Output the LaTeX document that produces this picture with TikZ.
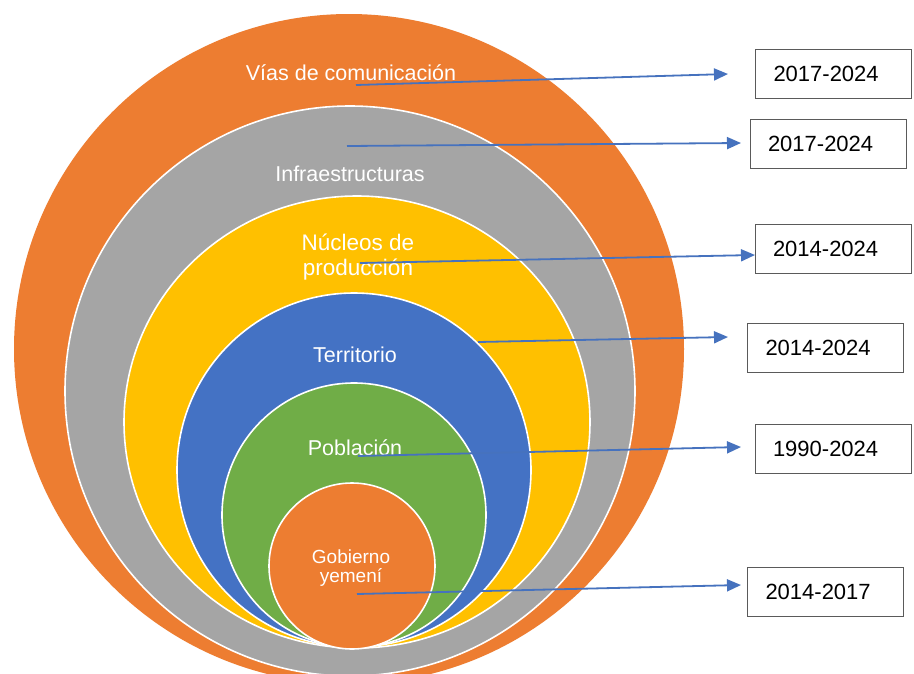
\documentclass[tikz,border=0pt]{standalone}
\usepackage{fontspec}
\setmainfont{Liberation Sans}
\usetikzlibrary{arrows.meta}
\definecolor{corange}{RGB}{237,125,49}
\definecolor{cgray}{RGB}{165,165,165}
\definecolor{cyellow}{RGB}{255,192,0}
\definecolor{cblue}{RGB}{68,114,196}
\definecolor{cgreen}{RGB}{112,173,71}
\definecolor{carrow}{RGB}{70,114,190}
\definecolor{cbox}{RGB}{90,90,90}
\begin{document}
\begin{tikzpicture}[x=1pt,y=-1pt,
  ring/.style={draw=white,line width=1.6pt},
  lbl/.style={text=white,inner sep=0pt,anchor=base,font=\fontsize{21.5}{24}\selectfont},
  datebox/.style={draw=cbox,line width=0.9pt,fill=white,minimum height=49pt,
    text width=120pt,inner xsep=18pt,inner ysep=0pt,align=left,
    font=\fontsize{22}{24}\selectfont},
  arr/.style={draw=carrow,line width=1.8pt,-{Triangle[length=14pt,width=12pt]}}]
\useasboundingbox (0,0) rectangle (914,673);
\clip (0,0) rectangle (914,673);
\fill[white] (0,0) rectangle (914,673);
% nested circles
\fill[corange] (349,349) circle[radius=335pt];
\filldraw[ring,fill=cgray] (350,391) circle[radius=285pt];
\filldraw[ring,fill=cyellow] (357,422) ellipse[x radius=233pt,y radius=226pt];
\filldraw[ring,fill=cblue] (354,470) circle[radius=177pt];
\filldraw[ring,fill=cgreen] (354,515) circle[radius=132pt];
\filldraw[ring,fill=corange] (352,566) circle[radius=83pt];
% labels
\node[lbl] (l1) at (351,80) {Vías de comunicación};
\node[lbl] (l2) at (350,181) {Infraestructuras};
\node[lbl,font=\fontsize{22.5}{25}\selectfont] (l3a) at (358,250) {Núcleos de};
\node[lbl,font=\fontsize{22.5}{25}\selectfont] (l3b) at (358,275) {producción};
\node[lbl] (l4) at (355,362) {Territorio};
\node[lbl] (l5) at (355,455) {Población};
\node[lbl,font=\fontsize{19}{21}\selectfont] (l6a) at (351,563) {Gobierno};
\node[lbl,font=\fontsize{19}{21}\selectfont] (l6b) at (351,582) {yemení};
% boxes
\node[datebox] (b1) at (833.5,74) {2017-2024};
\node[datebox] (b2) at (828,143.5) {2017-2024};
\node[datebox] (b3) at (833,248.5) {2014-2024};
\node[datebox] (b4) at (825.5,348) {2014-2024};
\node[datebox] (b5) at (833,449) {1990-2024};
\node[datebox] (b6) at (825.5,592) {2014-2017};
% arrow start and tip points
\coordinate (s1) at (356,85);  \coordinate (t1) at (728,74);
\coordinate (s2) at (347,146); \coordinate (t2) at (741,143);
\coordinate (s3) at (360,263); \coordinate (t3) at (755,255);
\coordinate (s4) at (478,342); \coordinate (t4) at (728,337);
\coordinate (s5) at (358,456); \coordinate (t5) at (741,447);
\coordinate (s6) at (357,594); \coordinate (t6) at (741,585);
\draw[arr] (s1) -- (t1);
\draw[arr] (s2) -- (t2);
\draw[arr] (s3) -- (t3);
\draw[arr] (s4) -- (t4);
\draw[arr] (s5) -- (t5);
\draw[arr] (s6) -- (t6);
\end{tikzpicture}
\end{document}
